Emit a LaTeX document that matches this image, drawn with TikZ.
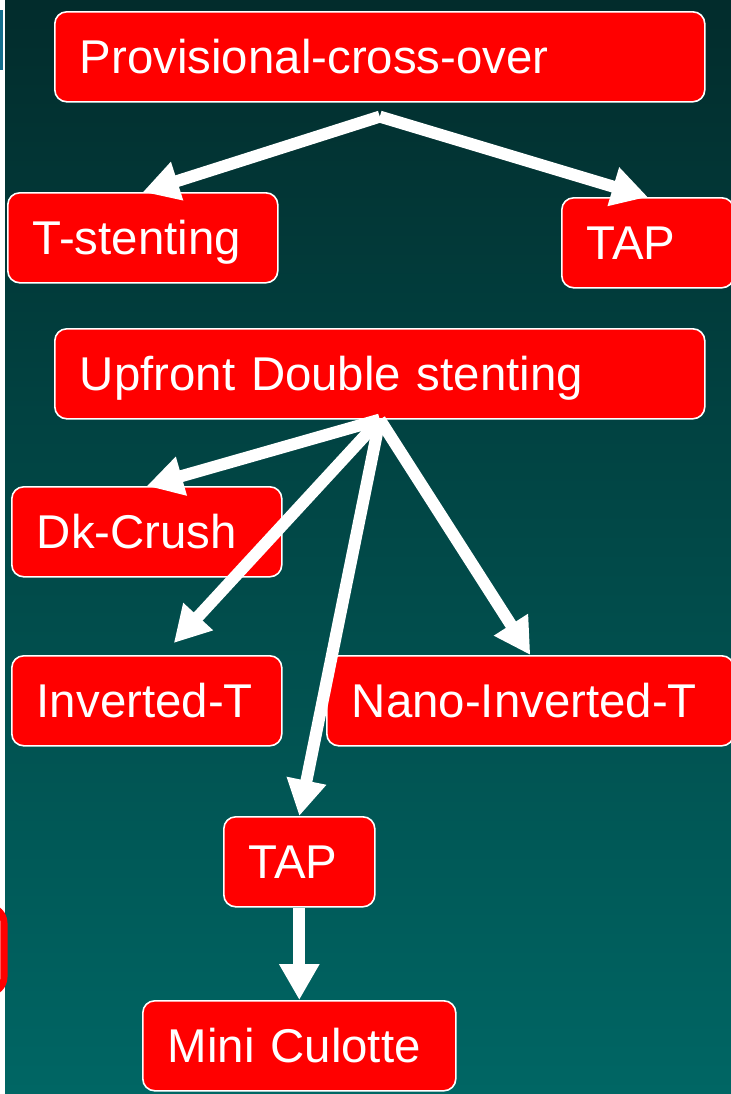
\documentclass[tikz,border=0pt]{standalone}
\usepackage{fontspec}
\setmainfont{Liberation Sans}
\usetikzlibrary{arrows.meta,calc}
\definecolor{bgtop}{RGB}{2,44,44}
\definecolor{bgbot}{RGB}{0,102,100}
\definecolor{boxred}{RGB}{255,0,0}
\definecolor{edgeblue}{RGB}{20,110,140}
\begin{document}
\begin{tikzpicture}[x=0.5pt,y=-0.5pt,
  box/.style={draw=white, line width=0.8pt, fill=boxred, rounded corners=6pt,
    anchor=north west, minimum height=45pt, inner xsep=12.5pt, inner ysep=0pt,
    text height=17pt, text depth=0pt, align=left, text width=#1,
    font=\fontsize{23.7pt}{28pt}\selectfont, text=white},
  arr/.style={draw=white, line width=6pt, -{Triangle[length=18pt,width=19pt]}}]
\useasboundingbox (0,0) rectangle (731,1094);
\clip (0,0) rectangle (731,1094);
% background
\fill[white] (0,0) rectangle (6,1094);
\shade[top color=bgtop, bottom color=bgbot] (5,0) rectangle (731,1094);
\fill[edgeblue] (0,10) rectangle (3,70);
\draw[boxred, line width=3.5pt, rounded corners=8pt] (-60,907) rectangle (4,993);
% boxes
\node[box=300pt] (prov) at (54,11) {\mbox{Provisional-cross-over}};
\node[box=110pt] (tst) at (7,192) {\mbox{T-stenting}};
\node[box=61pt] (tap1) at (561,197) {\mbox{TAP}};
\node[box=300pt] (upf) at (54,328) {\mbox{Upfront Double stenting}};
\node[box=110pt] (dk) at (11,486) {\mbox{Dk-Crush}};
\node[box=110pt] (inv) at (11,655) {\mbox{Inverted-T}};
\node[box=178.5pt] (nano) at (326,655) {\mbox{Nano-Inverted-T}};
\node[box=50.5pt] (tap2) at (223,816) {\mbox{TAP}};
\node[box=131.5pt] (mini) at (142,1000) {\mbox{Mini Culotte}};
% arrows
\coordinate (p0) at ($(prov.south)+(0,14)$);
\coordinate (invtip) at ($(inv.north)+(27,-12)$);
\draw[arr] (p0) -- (tst.north);
\draw[arr] (p0) -- (tap1.north);
\draw[arr] (upf.south) -- (dk.north);
\draw[arr] (upf.south) -- (invtip);
\draw[arr] (upf.south) -- (tap2.north);
\draw[arr] (upf.south) -- (nano.north);
\draw[arr] (tap2.south) -- (mini.north);
\end{tikzpicture}
\end{document}
